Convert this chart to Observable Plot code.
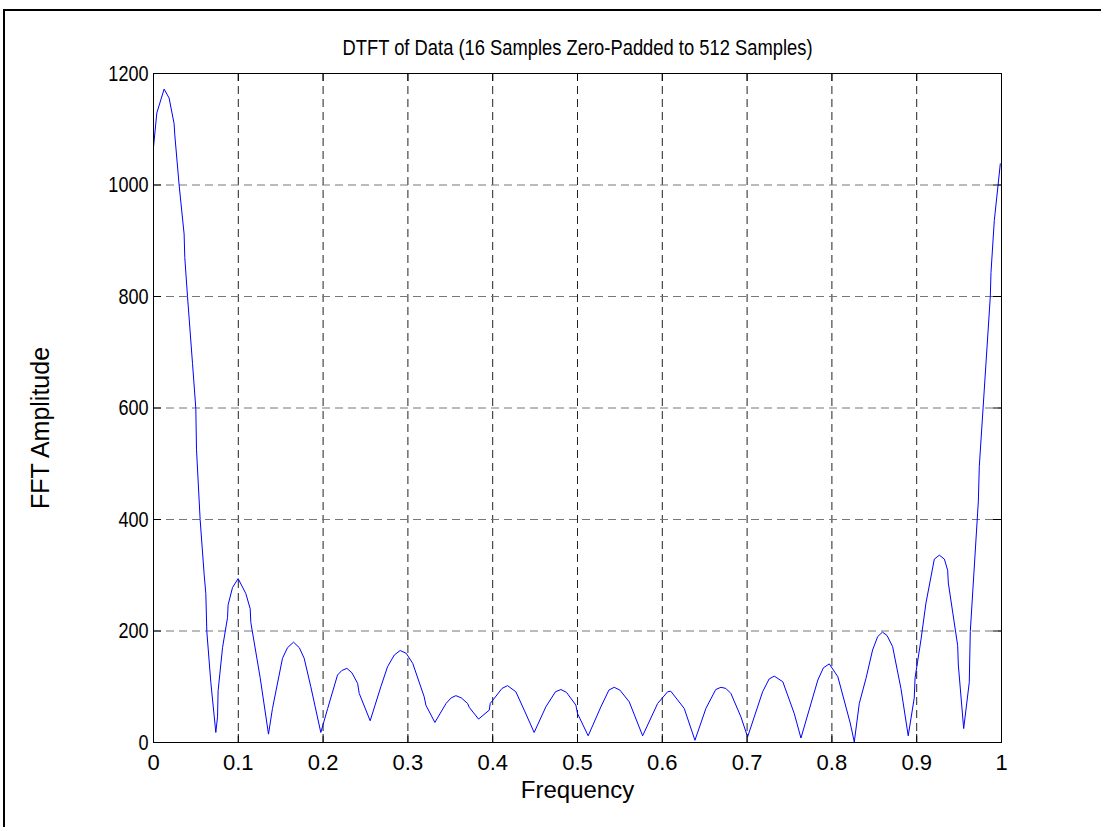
<!DOCTYPE html>
<html>
<head>
<meta charset="utf-8">
<script src="https://cdn.jsdelivr.net/npm/d3@7"></script>
<script src="https://cdn.jsdelivr.net/npm/@observablehq/plot@0.6"></script>
<style>
  html, body { margin: 0; padding: 0; background: white; overflow: hidden; }
  #wrap { position: relative; width: 1101px; height: 827px; overflow: hidden; }
  #wrap svg { position: absolute; left: 0; top: 0; }
  #border { position: absolute; left: 3px; top: 9px; width: 1300px; height: 1000px;
            border-top: 2px solid black; border-left: 2px solid black; pointer-events: none; }
</style>
</head>
<body>
<div id="wrap"><div id="border"></div></div>
<script>
const titleText = "DTFT of Data (16 Samples Zero-Padded to 512 Samples)";
const xLabelText = "Frequency";
const yLabelText = "FFT Amplitude";

const xTicks = [0, 0.1, 0.2, 0.3, 0.4, 0.5, 0.6, 0.7, 0.8, 0.9, 1];
const xTickLabels = ["0", "0.1", "0.2", "0.3", "0.4", "0.5", "0.6", "0.7", "0.8", "0.9", "1"];
const yTicks = [0, 200, 400, 600, 800, 1000, 1200];
const yTickLabels = ["0", "200", "400", "600", "800", "1000", "1200"];

const freq = [
  0, 0.0039, 0.0125, 0.0184, 0.0243, 0.0251, 0.0302, 0.0361, 0.0369, 0.0401,
  0.046, 0.0499, 0.0507, 0.055, 0.0597, 0.0617, 0.0629, 0.0676, 0.0735, 0.0755,
  0.0762, 0.0814, 0.0873, 0.088, 0.0932, 0.0998, 0.1089, 0.114, 0.1148, 0.1257,
  0.1356, 0.1403, 0.1521, 0.158, 0.1651, 0.172, 0.1777, 0.1855, 0.1973, 0.2054,
  0.217, 0.222, 0.228, 0.234, 0.2407, 0.2426, 0.2555, 0.2681, 0.276, 0.284,
  0.2909, 0.298, 0.3057, 0.3192, 0.3212, 0.3318, 0.345, 0.351, 0.3566, 0.363,
  0.3704, 0.3724, 0.3833, 0.3959, 0.3971, 0.411, 0.4175, 0.4273, 0.4372, 0.4489,
  0.4627, 0.474, 0.4804, 0.487, 0.4981, 0.5, 0.5126, 0.5276, 0.537, 0.5433,
  0.55, 0.561, 0.5768, 0.5945, 0.6063, 0.61, 0.6259, 0.6385, 0.6514, 0.663,
  0.6691, 0.675, 0.6809, 0.6927, 0.7006, 0.7183, 0.726, 0.732, 0.7421, 0.7556,
  0.7635, 0.7834, 0.79, 0.7969, 0.807, 0.8216, 0.8264, 0.8323, 0.8402, 0.848,
  0.854, 0.8596, 0.865, 0.8716, 0.8814, 0.89, 0.8971, 0.8981, 0.905, 0.9109,
  0.9208, 0.9267, 0.9326, 0.9365, 0.9373, 0.9483, 0.9491, 0.9554, 0.962, 0.9632,
  0.9727, 0.9738, 0.9868, 0.9876, 0.9915, 0.9986
];
const amplitude = [
  1068, 1129, 1172, 1156, 1110, 1090, 1000, 912, 870, 800,
  680, 599, 526, 400, 302, 267, 199, 108, 18, 46,
  93, 170, 224, 247, 278, 294, 267, 240, 215, 117,
  15, 61, 151, 170, 180, 170, 151, 100, 18, 61,
  121, 129, 133, 125, 106, 88, 39, 100, 136, 157,
  165, 160, 142, 82, 67, 36, 70, 80, 84, 80,
  70, 63, 42, 58, 70, 97, 102, 91, 58, 18,
  64, 91, 95, 90, 67, 52, 12, 64, 94, 99,
  94, 73, 12, 70, 91, 92, 61, 4, 61, 95,
  99, 97, 88, 46, 10, 91, 114, 119, 109, 52,
  8, 112, 134, 141, 118, 35, 1, 70, 115, 166,
  190, 198, 192, 172, 97, 12, 80, 116, 184, 250,
  329, 336, 329, 309, 286, 174, 139, 25, 108, 199,
  433, 495, 800, 843, 936, 1038
];

const data = freq.map((f, i) => ({f, v: amplitude[i]}));
const xLab = new Map(xTicks.map((t, i) => [t, xTickLabels[i]]));
const yLab = new Map(yTicks.map((t, i) => [t, yTickLabels[i]]));

const W = 1101, H = 827, mL = 153, mR = 100, mT = 73, mB = 85;
const innerW = W - mL - mR, innerH = H - mT - mB;
const tickLen = 8;

const chart = Plot.plot({
  width: W, height: H,
  marginLeft: mL, marginRight: mR, marginTop: mT, marginBottom: mB,
  x: {domain: [0, 1]},
  y: {domain: [0, 1200]},
  style: {fontFamily: "'Liberation Sans', Arial, sans-serif", fontSize: "22px", background: "white", color: "black", overflow: "visible"},
  marks: [
    Plot.ruleX(xTicks.slice(1, -1), {stroke: "#222", strokeDasharray: "8,5", strokeWidth: 1}),
    Plot.ruleY(yTicks.slice(1), {stroke: "#777", strokeDasharray: "8,5", strokeWidth: 1}),
    Plot.line(data, {x: "f", y: "v", stroke: "#0000ff", strokeWidth: 1}),
    Plot.frame({stroke: "black", strokeWidth: 1}),
    Plot.tickX(xTicks, {x: d => d, insetTop: innerH - tickLen, stroke: "black"}),
    Plot.tickX(xTicks, {x: d => d, insetBottom: innerH - tickLen, stroke: "black"}),
    Plot.tickY(yTicks, {y: d => d, insetRight: innerW - tickLen, stroke: "black"}),
    Plot.tickY(yTicks, {y: d => d, insetLeft: innerW - tickLen, stroke: "black"}),
    Plot.axisX(xTicks, {tickSize: 0, tickPadding: 12, tickFormat: d => xLab.get(d), label: null, fontSize: 22}),
    Plot.axisY(yTicks, {tickSize: 0, tickPadding: 5, tickFormat: d => yLab.get(d), label: null, fontSize: 22}),
    Plot.text([titleText], {text: d => d, frameAnchor: "top", dy: -34, fontSize: 22.5}),
    Plot.text([xLabelText], {text: d => d, frameAnchor: "bottom", dy: 55, fontSize: 24}),
    Plot.text([yLabelText], {text: d => d, frameAnchor: "left", dx: -113, dy: 20, rotate: -90, textAnchor: "middle", fontSize: 25})
  ]
});
document.getElementById("wrap").prepend(chart);

// Narrow the text horizontally to imitate the reference's condensed font
const svg = d3.select(chart);
svg.selectAll("text").each(function() {
  const t = this.textContent;
  if (t === titleText) {
    d3.select(this).attr("textLength", 470).attr("lengthAdjust", "spacingAndGlyphs");
  } else if (yTickLabels.includes(t) && this.closest("g[aria-label='y-axis tick label']")) {
    const len = this.getComputedTextLength();
    d3.select(this).attr("textLength", len * 0.82).attr("lengthAdjust", "spacingAndGlyphs");
  }
});
</script>
</body>
</html>
